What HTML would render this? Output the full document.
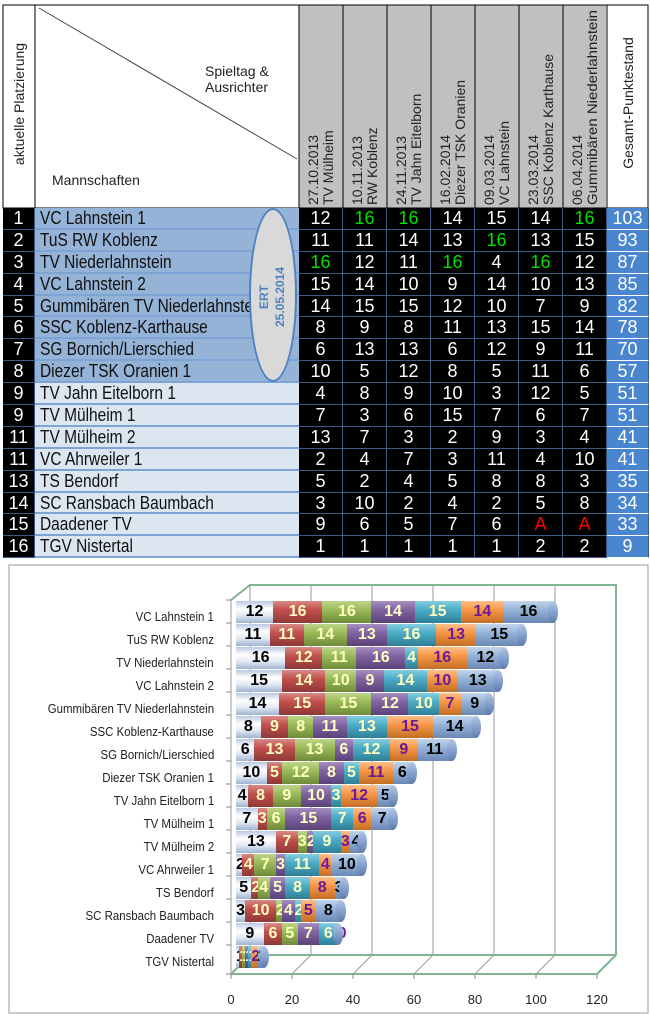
<!DOCTYPE html>
<html><head><meta charset="utf-8">
<style>
body{margin:0;width:650px;height:1017px;background:#fff;position:relative;overflow:hidden;font-family:"Liberation Sans",sans-serif}
.abs{position:absolute}
#tb{position:absolute;left:3px;top:208px;display:grid;grid-template-columns:32px 264px repeat(7,44px) 42px;grid-auto-rows:21.9px;font-family:"Liberation Sans Narrow","Liberation Sans",sans-serif;font-size:18px;line-height:21.9px}
#tb div{box-sizing:border-box;text-align:center;color:#fff;background:#000;border-right:1px solid #3b5a86;border-bottom:1px solid #3b5a86;white-space:nowrap;overflow:hidden}
#tb div b{font-weight:normal;display:inline-block;transform:scaleX(.86);transform-origin:center}
#tb .n{text-align:left;padding-left:5px;color:#111;background:#95b3d7;border-bottom:2px solid #7ea4d6;border-right:none}
#tb .n b{transform-origin:left}
#tb .l{background:#dce6f1}
#tb .t{background:#4a86d0;border-bottom:1px solid #fff}
#tb .g{color:#00e000}
#tb .a{color:#f00}
.br{position:absolute;left:236px;height:22px;display:flex;font:bold 16px/22px "Liberation Sans",sans-serif}
.br span{display:block;width:calc(var(--v)*3.08px);text-align:center;white-space:nowrap;overflow:visible;flex:none}
.s1{background:linear-gradient(#b9c9e2,#fff 35%,#e3eaf4 65%,#9fb3d2);color:#000}
.s2{background:linear-gradient(#d98a87,#c0504d 40%,#8f3835);color:#ffffc0}
.s3{background:linear-gradient(#bdd48a,#9bbb59 40%,#6e8a3a);color:#ffffc0}
.s4{background:linear-gradient(#a58ec0,#8064a2 40%,#5a4278);color:#ffffc0}
.s5{background:linear-gradient(#86cde0,#4bacc6 40%,#2f7f96);color:#ffffc0}
.s6{background:linear-gradient(#fbc08a,#f79646 40%,#c36e26);color:#6a1a9a}
.s7{background:linear-gradient(#c4d5ec,#95b3d7 40%,#6a88b4);color:#000}
.br i{display:block;width:10px;height:22px;border-radius:50%;margin-left:-5px;background:linear-gradient(#b3c6e2,#7e9aca 60%,#5d7aa8);flex:none}
.cl{position:absolute;right:436px;font:13px "Liberation Sans",sans-serif;color:#222;white-space:nowrap;transform:scaleX(.88);transform-origin:right}
</style></head><body>

<svg class="abs" style="left:0;top:0" width="650" height="1017">
 <rect x="299" y="5" width="307" height="203" fill="#c0c0c0"/>
 <rect x="3" y="5" width="645" height="203" fill="none" stroke="#000" stroke-width="1"/>
 <g stroke="#000" stroke-width="1">
  <line x1="35" y1="5" x2="35" y2="208"/><line x1="299" y1="5" x2="299" y2="208"/>
  <line x1="343" y1="5" x2="343" y2="208"/><line x1="387" y1="5" x2="387" y2="208"/>
  <line x1="431" y1="5" x2="431" y2="208"/><line x1="475" y1="5" x2="475" y2="208"/>
  <line x1="519" y1="5" x2="519" y2="208"/><line x1="563" y1="5" x2="563" y2="208"/>
  <line x1="607" y1="5" x2="607" y2="208"/>
 </g>
 <line x1="39" y1="8" x2="297" y2="159" stroke="#444" stroke-width="1"/>
 <g font-family="Liberation Sans, sans-serif" font-size="14" fill="#222">
  <text x="205" y="76">Spieltag &amp;</text>
  <text x="205" y="92">Ausrichter</text>
  <text x="52" y="185">Mannschaften</text>
  <text transform="translate(24,104) rotate(-90)" text-anchor="middle">aktuelle  Platzierung</text>
  <text transform="translate(633,103) rotate(-90)" text-anchor="middle">Gesamt-Punktestand</text>
  <text transform="translate(318,205) rotate(-90)">27.10.2013</text>
  <text transform="translate(333,205) rotate(-90)">TV Mülheim</text>
  <text transform="translate(362,205) rotate(-90)">10.11.2013</text>
  <text transform="translate(377,205) rotate(-90)">RW Koblenz</text>
  <text transform="translate(406,205) rotate(-90)">24.11.2013</text>
  <text transform="translate(421,205) rotate(-90)">TV Jahn Eitelborn</text>
  <text transform="translate(450,205) rotate(-90)">16.02.2014</text>
  <text transform="translate(465,205) rotate(-90)">Diezer TSK Oranien</text>
  <text transform="translate(494,205) rotate(-90)">09.03.2014</text>
  <text transform="translate(509,205) rotate(-90)">VC Lahnstein</text>
  <text transform="translate(538,205) rotate(-90)">23.03.2014</text>
  <text transform="translate(553,205) rotate(-90)">SSC Koblenz Karthause</text>
  <text transform="translate(582,205) rotate(-90)">06.04.2014</text>
  <text transform="translate(597,205) rotate(-90)" textLength="195" lengthAdjust="spacingAndGlyphs">Gummibären Niederlahnstein</text>
 </g>
 <rect x="9" y="565" width="639" height="448" fill="#fff" stroke="#999"/>
 <g stroke="#9a9a9a" stroke-width="1">
  <line x1="311" y1="585" x2="311" y2="955"/><line x1="372" y1="585" x2="372" y2="955"/>
  <line x1="433" y1="585" x2="433" y2="955"/><line x1="494" y1="585" x2="494" y2="955"/>
  <line x1="555" y1="585" x2="555" y2="955"/>
  <line x1="292" y1="974" x2="311" y2="955"/><line x1="353" y1="974" x2="372" y2="955"/>
  <line x1="414" y1="974" x2="433" y2="955"/><line x1="475" y1="974" x2="494" y2="955"/>
  <line x1="536" y1="974" x2="555" y2="955"/>
  <line x1="231" y1="600" x2="231" y2="974"/><line x1="250" y1="585" x2="250" y2="955"/>
 </g>
 <g stroke="#7fb593" stroke-width="2" fill="none">
  <polyline points="231,600 250,585 616,585 616,955"/>
  <line x1="250" y1="955" x2="616" y2="955"/>
  <line x1="231" y1="974" x2="597" y2="974"/>
  <line x1="597" y1="974" x2="616" y2="955"/>
  <line x1="231" y1="974" x2="250" y2="955"/>
 </g>
 <g stroke="#888">
  <line x1="226" y1="600" x2="231" y2="600"/><line x1="226" y1="623" x2="231" y2="623"/><line x1="226" y1="646" x2="231" y2="646"/><line x1="226" y1="669" x2="231" y2="669"/><line x1="226" y1="692" x2="231" y2="692"/><line x1="226" y1="715" x2="231" y2="715"/><line x1="226" y1="738" x2="231" y2="738"/><line x1="226" y1="761" x2="231" y2="761"/><line x1="226" y1="784" x2="231" y2="784"/><line x1="226" y1="807" x2="231" y2="807"/><line x1="226" y1="830" x2="231" y2="830"/><line x1="226" y1="853" x2="231" y2="853"/><line x1="226" y1="876" x2="231" y2="876"/><line x1="226" y1="899" x2="231" y2="899"/><line x1="226" y1="922" x2="231" y2="922"/><line x1="226" y1="945" x2="231" y2="945"/><line x1="226" y1="974" x2="231" y2="974"/>
  <line x1="231" y1="974" x2="231" y2="979"/><line x1="292" y1="974" x2="292" y2="979"/><line x1="353" y1="974" x2="353" y2="979"/><line x1="414" y1="974" x2="414" y2="979"/><line x1="475" y1="974" x2="475" y2="979"/><line x1="536" y1="974" x2="536" y2="979"/><line x1="597" y1="974" x2="597" y2="979"/>
 </g>
 <g font-family="Liberation Sans, sans-serif" font-size="13" fill="#222" text-anchor="middle">
  <text x="231" y="1004">0</text><text x="292" y="1004">20</text><text x="353" y="1004">40</text><text x="414" y="1004">60</text><text x="475" y="1004">80</text><text x="536" y="1004">100</text><text x="597" y="1004">120</text>
 </g>
</svg>

<div id="tb">
<div>1</div><div class="n"><b>VC Lahnstein 1</b></div><div>12</div><div class="g">16</div><div class="g">16</div><div>14</div><div>15</div><div>14</div><div class="g">16</div><div class="t">103</div>
<div>2</div><div class="n"><b>TuS RW Koblenz</b></div><div>11</div><div>11</div><div>14</div><div>13</div><div class="g">16</div><div>13</div><div>15</div><div class="t">93</div>
<div>3</div><div class="n"><b>TV Niederlahnstein</b></div><div class="g">16</div><div>12</div><div>11</div><div class="g">16</div><div>4</div><div class="g">16</div><div>12</div><div class="t">87</div>
<div>4</div><div class="n"><b>VC Lahnstein 2</b></div><div>15</div><div>14</div><div>10</div><div>9</div><div>14</div><div>10</div><div>13</div><div class="t">85</div>
<div>5</div><div class="n"><b>Gummibären TV Niederlahnstein</b></div><div>14</div><div>15</div><div>15</div><div>12</div><div>10</div><div>7</div><div>9</div><div class="t">82</div>
<div>6</div><div class="n"><b>SSC Koblenz-Karthause</b></div><div>8</div><div>9</div><div>8</div><div>11</div><div>13</div><div>15</div><div>14</div><div class="t">78</div>
<div>7</div><div class="n"><b>SG Bornich/Lierschied</b></div><div>6</div><div>13</div><div>13</div><div>6</div><div>12</div><div>9</div><div>11</div><div class="t">70</div>
<div>8</div><div class="n"><b>Diezer TSK Oranien 1</b></div><div>10</div><div>5</div><div>12</div><div>8</div><div>5</div><div>11</div><div>6</div><div class="t">57</div>
<div>9</div><div class="n l"><b>TV Jahn Eitelborn 1</b></div><div>4</div><div>8</div><div>9</div><div>10</div><div>3</div><div>12</div><div>5</div><div class="t">51</div>
<div>9</div><div class="n l"><b>TV Mülheim 1</b></div><div>7</div><div>3</div><div>6</div><div>15</div><div>7</div><div>6</div><div>7</div><div class="t">51</div>
<div>11</div><div class="n l"><b>TV Mülheim 2</b></div><div>13</div><div>7</div><div>3</div><div>2</div><div>9</div><div>3</div><div>4</div><div class="t">41</div>
<div>11</div><div class="n l"><b>VC Ahrweiler 1</b></div><div>2</div><div>4</div><div>7</div><div>3</div><div>11</div><div>4</div><div>10</div><div class="t">41</div>
<div>13</div><div class="n l"><b>TS Bendorf</b></div><div>5</div><div>2</div><div>4</div><div>5</div><div>8</div><div>8</div><div>3</div><div class="t">35</div>
<div>14</div><div class="n l"><b>SC Ransbach Baumbach</b></div><div>3</div><div>10</div><div>2</div><div>4</div><div>2</div><div>5</div><div>8</div><div class="t">34</div>
<div>15</div><div class="n l"><b>Daadener TV</b></div><div>9</div><div>6</div><div>5</div><div>7</div><div>6</div><div class="a">A</div><div class="a">A</div><div class="t">33</div>
<div>16</div><div class="n l"><b>TGV Nistertal</b></div><div>1</div><div>1</div><div>1</div><div>1</div><div>1</div><div>2</div><div>2</div><div class="t">9</div>
</div>

<div class="abs" style="left:249px;top:208px;width:48px;height:174px;box-sizing:border-box;border:2px solid #4f81bd;border-radius:50%;background:#d9d9d9"></div>
<svg class="abs" style="left:249px;top:208px" width="48" height="174">
 <g font-family="Liberation Sans, sans-serif" font-weight="bold" font-size="12" fill="#4f81bd" text-anchor="middle">
  <text transform="translate(19,89) rotate(-90)">ERT</text>
  <text transform="translate(35,89) rotate(-90)">25.05.2014</text>
 </g>
</svg>

<div class="cl" style="top:609px">VC Lahnstein 1</div>
<div class="cl" style="top:632px">TuS RW Koblenz</div>
<div class="cl" style="top:655px">TV Niederlahnstein</div>
<div class="cl" style="top:678px">VC Lahnstein 2</div>
<div class="cl" style="top:701px">Gummibären TV  Niederlahnstein</div>
<div class="cl" style="top:724px">SSC Koblenz-Karthause</div>
<div class="cl" style="top:747px">SG Bornich/Lierschied</div>
<div class="cl" style="top:770px">Diezer TSK Oranien 1</div>
<div class="cl" style="top:793px">TV Jahn Eitelborn 1</div>
<div class="cl" style="top:816px">TV Mülheim 1</div>
<div class="cl" style="top:839px">TV Mülheim 2</div>
<div class="cl" style="top:862px">VC Ahrweiler 1</div>
<div class="cl" style="top:885px">TS Bendorf</div>
<div class="cl" style="top:908px">SC Ransbach  Baumbach</div>
<div class="cl" style="top:931px">Daadener TV</div>
<div class="cl" style="top:954px">TGV Nistertal</div>

<div class="br" style="top:601px"><span class="s1" style="--v:12">12</span><span class="s2" style="--v:16">16</span><span class="s3" style="--v:16">16</span><span class="s4" style="--v:14">14</span><span class="s5" style="--v:15">15</span><span class="s6" style="--v:14">14</span><span class="s7" style="--v:16">16</span><i></i></div>
<div class="br" style="top:624px"><span class="s1" style="--v:11">11</span><span class="s2" style="--v:11">11</span><span class="s3" style="--v:14">14</span><span class="s4" style="--v:13">13</span><span class="s5" style="--v:16">16</span><span class="s6" style="--v:13">13</span><span class="s7" style="--v:15">15</span><i></i></div>
<div class="br" style="top:647px"><span class="s1" style="--v:16">16</span><span class="s2" style="--v:12">12</span><span class="s3" style="--v:11">11</span><span class="s4" style="--v:16">16</span><span class="s5" style="--v:4">4</span><span class="s6" style="--v:16">16</span><span class="s7" style="--v:12">12</span><i></i></div>
<div class="br" style="top:670px"><span class="s1" style="--v:15">15</span><span class="s2" style="--v:14">14</span><span class="s3" style="--v:10">10</span><span class="s4" style="--v:9">9</span><span class="s5" style="--v:14">14</span><span class="s6" style="--v:10">10</span><span class="s7" style="--v:13">13</span><i></i></div>
<div class="br" style="top:693px"><span class="s1" style="--v:14">14</span><span class="s2" style="--v:15">15</span><span class="s3" style="--v:15">15</span><span class="s4" style="--v:12">12</span><span class="s5" style="--v:10">10</span><span class="s6" style="--v:7">7</span><span class="s7" style="--v:9">9</span><i></i></div>
<div class="br" style="top:716px"><span class="s1" style="--v:8">8</span><span class="s2" style="--v:9">9</span><span class="s3" style="--v:8">8</span><span class="s4" style="--v:11">11</span><span class="s5" style="--v:13">13</span><span class="s6" style="--v:15">15</span><span class="s7" style="--v:14">14</span><i></i></div>
<div class="br" style="top:739px"><span class="s1" style="--v:6">6</span><span class="s2" style="--v:13">13</span><span class="s3" style="--v:13">13</span><span class="s4" style="--v:6">6</span><span class="s5" style="--v:12">12</span><span class="s6" style="--v:9">9</span><span class="s7" style="--v:11">11</span><i></i></div>
<div class="br" style="top:762px"><span class="s1" style="--v:10">10</span><span class="s2" style="--v:5">5</span><span class="s3" style="--v:12">12</span><span class="s4" style="--v:8">8</span><span class="s5" style="--v:5">5</span><span class="s6" style="--v:11">11</span><span class="s7" style="--v:6">6</span><i></i></div>
<div class="br" style="top:785px"><span class="s1" style="--v:4">4</span><span class="s2" style="--v:8">8</span><span class="s3" style="--v:9">9</span><span class="s4" style="--v:10">10</span><span class="s5" style="--v:3">3</span><span class="s6" style="--v:12">12</span><span class="s7" style="--v:5">5</span><i></i></div>
<div class="br" style="top:808px"><span class="s1" style="--v:7">7</span><span class="s2" style="--v:3">3</span><span class="s3" style="--v:6">6</span><span class="s4" style="--v:15">15</span><span class="s5" style="--v:7">7</span><span class="s6" style="--v:6">6</span><span class="s7" style="--v:7">7</span><i></i></div>
<div class="br" style="top:831px"><span class="s1" style="--v:13">13</span><span class="s2" style="--v:7">7</span><span class="s3" style="--v:3">3</span><span class="s4" style="--v:2">2</span><span class="s5" style="--v:9">9</span><span class="s6" style="--v:3">3</span><span class="s7" style="--v:4">4</span><i></i></div>
<div class="br" style="top:854px"><span class="s1" style="--v:2">2</span><span class="s2" style="--v:4">4</span><span class="s3" style="--v:7">7</span><span class="s4" style="--v:3">3</span><span class="s5" style="--v:11">11</span><span class="s6" style="--v:4">4</span><span class="s7" style="--v:10">10</span><i></i></div>
<div class="br" style="top:877px"><span class="s1" style="--v:5">5</span><span class="s2" style="--v:2">2</span><span class="s3" style="--v:4">4</span><span class="s4" style="--v:5">5</span><span class="s5" style="--v:8">8</span><span class="s6" style="--v:8">8</span><span class="s7" style="--v:3">3</span><i></i></div>
<div class="br" style="top:900px"><span class="s1" style="--v:3">3</span><span class="s2" style="--v:10">10</span><span class="s3" style="--v:2">2</span><span class="s4" style="--v:4">4</span><span class="s5" style="--v:2">2</span><span class="s6" style="--v:5">5</span><span class="s7" style="--v:8">8</span><i></i></div>
<div class="br" style="top:923px"><span class="s1" style="--v:9">9</span><span class="s2" style="--v:6">6</span><span class="s3" style="--v:5">5</span><span class="s4" style="--v:7">7</span><span class="s5" style="--v:6">6</span><span class="s6" style="--v:0">0</span><span class="s7" style="--v:0"></span><i></i></div>
<div class="br" style="top:946px"><span class="s1" style="--v:1">1</span><span class="s2" style="--v:1">1</span><span class="s3" style="--v:1">1</span><span class="s4" style="--v:1">1</span><span class="s5" style="--v:1">1</span><span class="s6" style="--v:2">2</span><span class="s7" style="--v:2">2</span><i></i></div>

</body></html>
